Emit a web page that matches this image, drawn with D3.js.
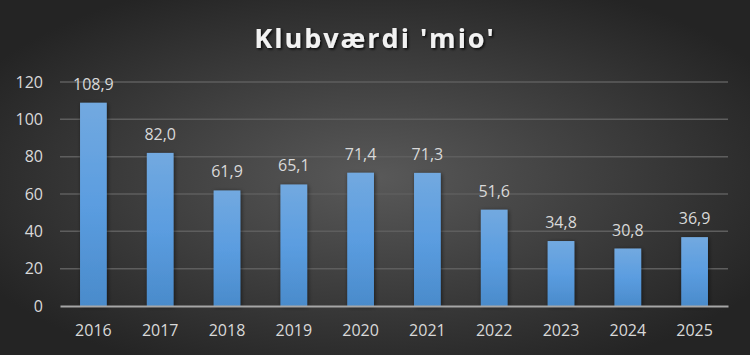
<!DOCTYPE html>
<html>
<head>
<meta charset="utf-8">
<script src="https://cdn.jsdelivr.net/npm/d3@7"></script>
<style>
  body { margin: 0; background: #2b2b2b; }
  svg { display: block; }
</style>
</head>
<body>
<div id="chart"></div>
<script>
var years = ["2016", "2017", "2018", "2019", "2020", "2021", "2022", "2023", "2024", "2025"];
var values = [108.9, 82.0, 61.9, 65.1, 71.4, 71.3, 51.6, 34.8, 30.8, 36.9];
var yTicks = [0, 20, 40, 60, 80, 100, 120];
var title = "Klubværdi 'mio'";

var width = 750,
    height = 355,
    margin = { top: 82, right: 22, bottom: 49, left: 60 };

var svg = d3.select("#chart")
  .append("svg")
  .attr("width", width)
  .attr("height", height);

var defs = svg.append("defs");

var bg = defs.append("radialGradient")
  .attr("id", "bg")
  .attr("cx", "50%").attr("cy", "50%").attr("r", "60%");
bg.append("stop").attr("offset", "0%").attr("stop-color", "#595959");
bg.append("stop").attr("offset", "100%").attr("stop-color", "#242424");

var barGrad = defs.append("linearGradient")
  .attr("id", "barGrad")
  .attr("x1", 0).attr("y1", 0).attr("x2", 0).attr("y2", 1);
barGrad.append("stop").attr("offset", "0%").attr("stop-color", "#72a9e0");
barGrad.append("stop").attr("offset", "50%").attr("stop-color", "#5b9de0");
barGrad.append("stop").attr("offset", "100%").attr("stop-color", "#4a8bcb");

var shadow = defs.append("filter").attr("id", "shadow")
  .attr("x", "-30%").attr("y", "-10%").attr("width", "160%").attr("height", "120%");
shadow.append("feDropShadow")
  .attr("dx", 1).attr("dy", 1).attr("stdDeviation", 2)
  .attr("flood-color", "#000").attr("flood-opacity", 0.55);

var tshadow = defs.append("filter").attr("id", "tshadow");
tshadow.append("feDropShadow")
  .attr("dx", 1.5).attr("dy", 1.5).attr("stdDeviation", 1.2)
  .attr("flood-color", "#000").attr("flood-opacity", 0.8);

svg.append("rect")
  .attr("width", width).attr("height", height)
  .attr("fill", "url(#bg)");

svg.append("text")
  .attr("x", width / 2)
  .attr("y", 48)
  .attr("text-anchor", "middle")
  .attr("fill", "#f2f2f2")
  .attr("font-family", "'Open Sans', sans-serif")
  .attr("font-size", 27)
  .attr("font-weight", "bold")
  .attr("letter-spacing", 2)
  .attr("filter", "url(#tshadow)")
  .text(title);

var x = d3.scaleBand()
  .domain(years)
  .range([margin.left, width - margin.right])
  .paddingInner(0.6)
  .paddingOuter(0.3);

var y = d3.scaleLinear()
  .domain([0, 120])
  .range([height - margin.bottom, margin.top]);

// gridlines
svg.append("g")
  .selectAll("line")
  .data(yTicks.slice(1))
  .join("line")
  .attr("x1", margin.left)
  .attr("x2", width - margin.right)
  .attr("y1", function(d) { return y(d); })
  .attr("y2", function(d) { return y(d); })
  .attr("stroke", "#5e5e5e")
  .attr("stroke-width", 1.5);

// y axis
var yAxis = svg.append("g")
  .attr("transform", `translate(${margin.left},0)`)
  .call(d3.axisLeft(y).tickValues(yTicks).tickSize(0).tickPadding(17));
yAxis.select(".domain").remove();
yAxis.selectAll("text")
  .attr("fill", "#d9d9d9")
  .attr("font-family", "'Open Sans', sans-serif")
  .attr("font-size", 16);

// bars
svg.append("g")
  .selectAll("rect")
  .data(values)
  .join("rect")
  .attr("x", function(d, i) { return x(years[i]); })
  .attr("y", function(d) { return y(d); })
  .attr("width", x.bandwidth())
  .attr("height", function(d) { return y(0) - y(d); })
  .attr("fill", "url(#barGrad)")
  .attr("filter", "url(#shadow)");

// value labels
svg.append("g")
  .selectAll("text")
  .data(values)
  .join("text")
  .attr("x", function(d, i) { return x(years[i]) + x.bandwidth() / 2; })
  .attr("y", function(d) { return y(d) - 13; })
  .attr("text-anchor", "middle")
  .attr("fill", "#d9d9d9")
  .attr("font-family", "'Open Sans', sans-serif")
  .attr("font-size", 16)
  .text(function(d) { return d.toFixed(1).replace(".", ","); });

// x axis
var xAxis = svg.append("g")
  .attr("transform", `translate(0,${y(0)})`)
  .call(d3.axisBottom(x).tickSize(0).tickPadding(19));
xAxis.select(".domain")
  .attr("stroke", "#a6a6a6")
  .attr("stroke-width", 2);
xAxis.selectAll("text")
  .attr("fill", "#d9d9d9")
  .attr("font-family", "'Open Sans', sans-serif")
  .attr("font-size", 16);
</script>
</body>
</html>
